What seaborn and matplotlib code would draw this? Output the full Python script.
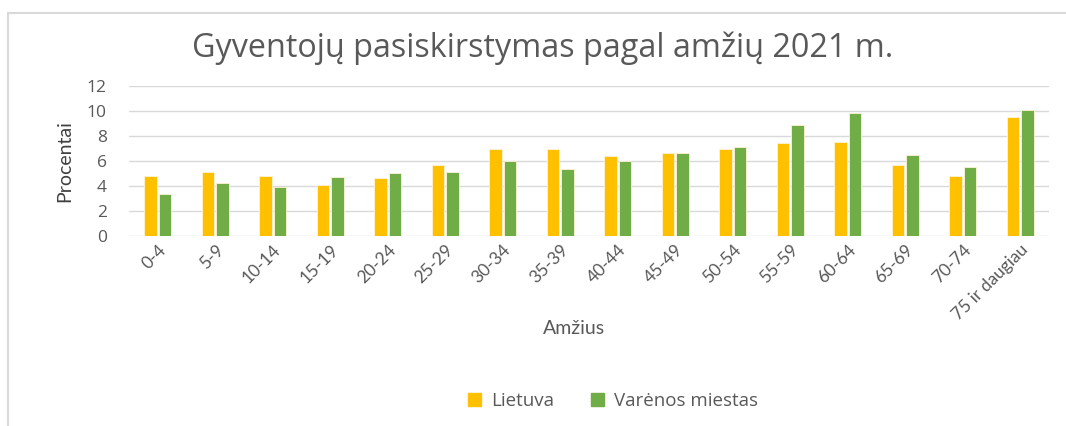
import matplotlib
matplotlib.use("Agg")
import matplotlib.pyplot as plt
from matplotlib.lines import Line2D
import seaborn as sns
import pandas as pd

categories = ["0-4", "5-9", "10-14", "15-19", "20-24", "25-29", "30-34", "35-39",
              "40-44", "45-49", "50-54", "55-59", "60-64", "65-69", "70-74", "75 ir daugiau"]
lietuva = [4.8, 5.1, 4.8, 4.1, 4.65, 5.7, 7.0, 6.95, 6.4, 6.65, 6.95, 7.45, 7.5, 5.7, 4.8, 9.5]
varena = [3.35, 4.25, 3.9, 4.7, 5.05, 5.1, 6.0, 5.4, 6.0, 6.65, 7.1, 8.9, 9.8, 6.5, 5.5, 10.05]
series_names = ["Lietuva", "Varėnos miestas"]
colors = ["#FFC000", "#70AD47"]

df = pd.DataFrame({
    "Amžius": categories * 2,
    "Procentai": lietuva + varena,
    "Serija": [series_names[0]] * len(categories) + [series_names[1]] * len(categories),
})

sns.set_theme(style="white")
plt.rcParams["font.family"] = ["Open Sans", "DejaVu Sans"]

fig = plt.figure(figsize=(10.66, 4.26), dpi=100)
ax = fig.add_axes([129 / 1066, 1 - 236 / 426, 920 / 1066, 150 / 426])

sns.barplot(data=df, x="Amžius", y="Procentai", hue="Serija", order=categories,
            hue_order=series_names, palette=colors, saturation=1, width=0.5, gap=0.12,
            edgecolor="#FFF3D6", linewidth=0.6, ax=ax, legend=False)

gray = "#595959"
ax.set_ylim(0, 12)
ax.set_yticks(range(0, 13, 2))
ax.set_xlim(-0.5, len(categories) - 0.5)
ax.yaxis.grid(True, color="#D9D9D9", linewidth=1)
ax.set_axisbelow(True)
for s in ax.spines.values():
    s.set_visible(False)
ax.tick_params(axis="y", length=0, pad=16, labelsize=12.5, labelcolor=gray)
ax.tick_params(axis="x", length=0, pad=4, labelcolor=gray)
ax.set_xticks(range(len(categories)))
ax.set_xticklabels(categories, rotation=45, ha="right", va="top",
                   rotation_mode="anchor", fontsize=12.5, family=["Lato", "DejaVu Sans"],
                   color=gray)
ax.set_ylabel("Procentai", fontsize=14, color="#404040",
              family=["Liberation Sans Narrow", "Lato", "DejaVu Sans"], labelpad=10)
ax.set_xlabel("Amžius", fontsize=14, color=gray, family=["Lato", "DejaVu Sans"])
ax.xaxis.set_label_coords((574 - 129) / 920, (236 - 320) / 150)

fig.text(543 / 1066, 1 - 48 / 426, "Gyventojų pasiskirstymas pagal amžių 2021 m.",
         ha="center", va="center", fontsize=23.3, color=gray)

handles = [plt.Rectangle((0, 0), 1, 1, color=c) for c in colors]
fig.legend(handles, series_names, loc="center", bbox_to_anchor=(613 / 1066, 1 - 401 / 426),
           ncol=2, frameon=False, fontsize=13.5, labelcolor=gray, handlelength=0.7,
           handleheight=0.7, handletextpad=0.5, columnspacing=2.0)

fig.add_artist(Line2D([8 / 1066, 8 / 1066], [0, 1 - 13 / 426], color="#D9D9D9", linewidth=1.5,
                      transform=fig.transFigure))
fig.add_artist(Line2D([8 / 1066, 1], [1 - 13 / 426, 1 - 13 / 426], color="#D9D9D9", linewidth=1.5,
                      transform=fig.transFigure))

fig.savefig("out.png", dpi=100)
